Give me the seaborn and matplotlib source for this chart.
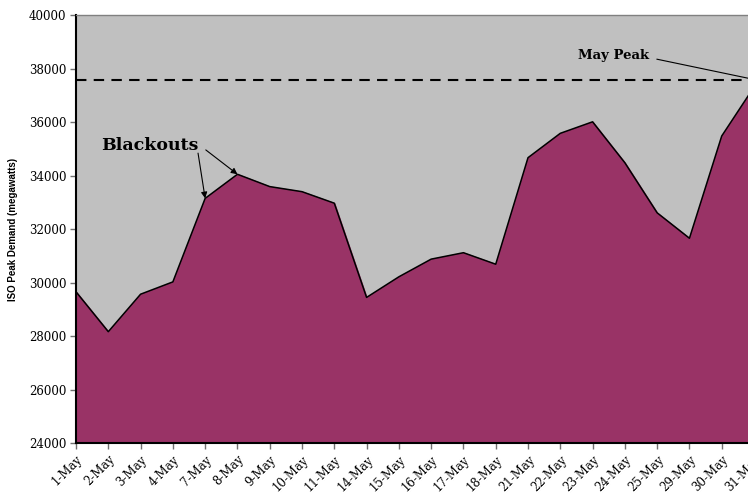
import numpy as np
import pandas as pd
import matplotlib
matplotlib.use('Agg')
import matplotlib.pyplot as plt
import seaborn as sns

## daily ISO peak demand, weekdays of May
days = ['1-May', '2-May', '3-May', '4-May', '7-May', '8-May', '9-May', '10-May',
		'11-May', '14-May', '15-May', '16-May', '17-May', '18-May', '21-May',
		'22-May', '23-May', '24-May', '25-May', '29-May', '30-May', '31-May']
demand = [29660, 28170, 29570, 30030, 33150, 34050, 33590, 33400,
		  32970, 29450, 30220, 30880, 31120, 30690, 34670,
		  35580, 36010, 34480, 32610, 31660, 35480, 37310]
may_peak = 37590
yticks = list(range(24000, 40001, 2000))

df = pd.DataFrame({'day': days, 'demand': demand})
df['pos'] = np.arange(len(df))

sns.set_style('white')
plt.rcParams['font.family'] = ['DejaVu Serif']
plt.rcParams['text.color'] = 'black'
plt.rcParams['axes.labelcolor'] = 'black'
plt.rcParams['xtick.labelcolor'] = 'black'
plt.rcParams['ytick.labelcolor'] = 'black'

fig = plt.figure(figsize=(7.48, 4.97), dpi=100)
ax = fig.add_axes([76/748, 53.7/497, 678/748, 428.3/497])
ax.set_facecolor('#c0c0c0')

ax.fill_between(df['pos'], df['demand'], 24000, color='#993366', zorder=2)
sns.lineplot(data=df, x='pos', y='demand', color='black', lw=1.1, ax=ax, zorder=3)

ax.axhline(may_peak, color='black', lw=1.5, ls=(0, (5, 3.5)), zorder=4)

ax.set_xlim(0, len(days) - 1)
ax.set_ylim(24000, 40000)
ax.set_xticks(df['pos'])
ax.set_xticklabels(days, rotation=45, ha='right', rotation_mode='anchor', fontsize=8.5)
ax.set_yticks(yticks)
ax.set_yticklabels([str(t) for t in yticks], fontsize=8.5)
ax.tick_params(axis='both', which='both', direction='out', length=4, width=1,
			   color='#707070', labelcolor='black', pad=3, left=True, bottom=True)

ax.set_xlabel('')
ax.set_ylabel('ISO Peak Demand (megawatts)', fontsize=7, fontweight='bold',
			  family='Liberation Sans', labelpad=8)

for side in ['top', 'right']:
	ax.spines[side].set_visible(False)
ax.spines['left'].set_color('black')
ax.spines['left'].set_linewidth(1.5)
ax.spines['bottom'].set_color('black')
ax.spines['bottom'].set_linewidth(1.5)
ax.plot([0, 1], [1, 1], transform=ax.transAxes, color='#808080', lw=1, clip_on=False, zorder=5)

## annotations
ax.text(2.29, 35140, 'Blackouts', fontsize=12.5, fontweight='heavy', ha='center', va='center')
arrow = dict(arrowstyle='-|>', color='black', lw=0.8, mutation_scale=9, shrinkA=0, shrinkB=0)
ax.annotate('', xy=(4, demand[4]), xytext=(3.78, 34840), arrowprops=arrow, zorder=6)
ax.annotate('', xy=(5, demand[5]), xytext=(4.02, 34960), arrowprops=arrow, zorder=6)

ax.text(16.66, 38470, 'May Peak', fontsize=9.5, fontweight='bold', ha='center', va='center')
ax.plot([17.99, 20.81], [38350, 37640], color='black', lw=0.8, zorder=6)

fig.savefig('out.png', dpi=100)
